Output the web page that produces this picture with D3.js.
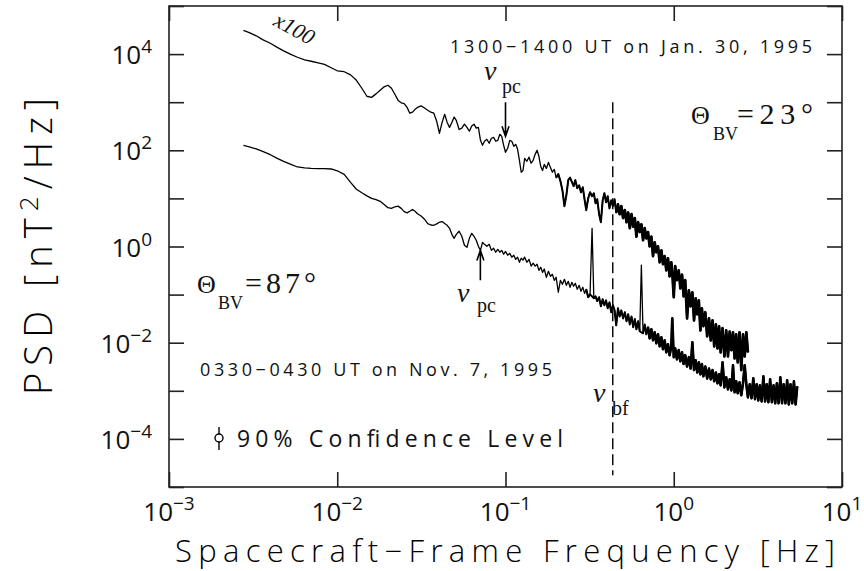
<!DOCTYPE html>
<html><head><meta charset="utf-8">
<script src="https://cdn.jsdelivr.net/npm/d3@7"></script>
<style>body{margin:0;background:#fff}svg{display:block}</style>
</head><body>
<svg id="chart" width="864" height="571"></svg>
<script>
// ---------------- DATA ----------------
// frequency grid [Hz]
const freq = [
0.00277,0.0030,0.0033,0.0036,0.0040,0.0044,0.0048,0.0053,0.0058,0.0064,
0.0070,0.0077,0.0084,0.0092,0.0100,0.0110,0.0120,0.0130,0.0140,0.0150,
0.0160,0.0170,0.0180,0.0190,0.0200,0.0210,0.0220,0.0230,0.0240,0.0250,
0.0260,0.0270,0.0280,0.0290,0.0300,0.0315,0.0330,0.0345,0.0360,0.0375,
0.0390,0.0405,0.0420,0.0435,0.0450,0.0465,0.0480,0.0495,0.0510,0.0530,
0.0550,0.0570,0.0590,0.0610,0.0630,0.0650,0.0670,0.0690,0.0710,0.0730,
0.0750,0.0775,0.0800,0.0825,0.0850,0.0875,0.0900,0.0925,0.0950,0.0975,
0.100,0.103,0.106,0.109,0.112,0.115,0.118,0.121,0.124,0.127,
0.130,0.134,0.138,0.142,0.146,0.150,0.154,0.158,0.162,0.166,
0.170,0.175,0.180,0.185,0.190,0.195,0.200,0.206,0.212,0.218,
0.224,0.230,0.236,0.242,0.248,0.254,0.260,0.267,0.274,0.281,
0.288,0.295,0.302,0.310,0.318,0.327,0.335,0.343,0.351,0.360,
0.369,0.378,0.387,0.396,0.405,0.415,0.425,0.435,0.445,0.455,
0.466,0.477,0.488,0.500,0.512,0.524,0.536,0.548,0.561,0.574,
0.587,0.600,0.614,0.628,0.642,0.657,0.672,0.687,0.703,0.719,
0.736,0.753,0.770,0.788,0.806,0.825,0.844,0.863,0.883,0.903,
0.924,0.945,0.967,0.980,1.000,1.02,1.045,1.07,1.095,1.12,
1.145,1.17,1.20,1.23,1.26,1.29,1.32,1.35,1.38,1.41,
1.44,1.47,1.50,1.54,1.58,1.62,1.66,1.70,1.74,1.78,
1.82,1.86,1.90,1.95,2.00,2.05,2.10,2.15,2.20,2.25,
2.30,2.35,2.40,2.46,2.52,2.58,2.64,2.70,2.76,2.83,
2.90,2.97,3.04,3.11,3.18,3.25,3.33,3.41,3.49,3.57,
3.65,3.74,3.83,3.92,4.01,4.10,4.20,4.30,4.40,4.50,
4.61,4.72,4.83,4.94,5.06,5.18,5.30,5.42];

// PSD [nT^2/Hz], 1300-1400 UT Jan. 30, 1995 (plotted x100)
const psdJan30 = [
310,280,240,200,168,138,117,99,86,76,
71,66,61,52,45,43,37,28.5,19.5,13.3,
12.6,14.9,17.7,20.9,22.5,19.5,14.6,10.9,9.7,9.3,
7.8,5.9,6.2,7.1,7.8,8.4,7.6,6.8,6.2,5.9,
4.0,2.26,3.8,5.6,3.8,3.0,3.8,4.9,4.2,2.7,
2.9,3.5,3.0,2.5,3.2,3.5,2.9,3.0,1.61,1.27,
1.54,1.69,1.40,1.78,1.86,1.54,1.61,2.15,1.95,1.27,
0.91,1.10,1.61,1.54,1.21,1.33,1.05,0.62,0.35,0.38,
0.68,0.59,0.72,0.54,0.62,0.83,1.0,0.75,0.46,0.38,
0.51,0.42,0.56,0.44,0.35,0.40,0.27,0.32,0.23,0.147,
0.069,0.116,0.24,0.27,0.22,0.18,0.24,0.162,0.187,0.134,
0.170,0.096,0.057,0.100,0.134,0.111,0.128,0.079,0.096,0.047,
0.032,0.091,0.128,0.083,0.111,0.062,0.091,0.069,0.096,0.051,
0.075,0.047,0.069,0.039,0.057,0.032,0.051,0.024,0.047,0.026,
0.039,0.016,0.032,0.020,0.029,0.0135,0.024,0.0148,0.020,0.0101,
0.016,0.0063,0.0122,0.0076,0.0101,0.0047,0.0083,0.0043,0.0063,0.0032,
0.0057,0.0024,0.0047,0.0029,0.00088,0.0039,0.0020,0.0032,0.00135,0.0026,
0.00092,0.0020,0.00032,0.00123,0.00057,0.00112,0.00029,0.00084,0.00039,0.00076,
0.00018,0.00052,0.00022,0.00043,0.000136,0.00032,0.000112,0.00029,0.000084,0.00024,
0.000076,0.00022,0.000063,0.00020,0.000052,0.00018,0.000052,0.00017,0.000070,0.000165,
0.000047,0.000150,0.000039,0.000165,0.000027,0.000150,0.000052,0.000165,0.000063,null,
null,null,null,null,null,null,null,null,null,null,
null,null,null,null,null,null,null,null,null,null,
null,null,null,null,null,null,null,null];

// PSD [nT^2/Hz], 0330-0430 UT Nov. 7, 1995
const psdNov7 = [
127,118,107,95,81,68,59,51,45,43,
42,41.6,41.6,40.9,37.5,31.7,21.6,15.5,13.1,11.3,
10.0,9.4,8.7,7.5,6.4,6.2,6.7,6.9,6.2,5.3,
5.0,5.4,5.9,5.4,4.8,4.3,3.7,3.0,2.8,2.76,
2.96,3.2,3.3,3.0,2.76,2.39,1.79,1.48,1.79,2.07,
1.63,1.06,0.96,1.48,1.88,1.63,1.35,1.01,0.83,1.22,
1.11,1.01,1.11,0.83,0.92,0.76,0.87,0.76,0.83,0.69,
0.79,0.66,0.72,0.60,0.66,0.54,0.60,0.47,0.57,0.52,
0.60,0.47,0.54,0.39,0.45,0.39,0.43,0.32,0.37,0.29,
0.34,0.229,0.305,0.24,0.264,0.198,0.229,0.112,0.198,0.164,
0.208,0.156,0.189,0.142,0.180,0.149,0.172,0.129,0.156,0.117,
0.142,0.106,0.129,0.088,0.101,2.39,0.084,0.092,0.073,0.088,
0.057,0.080,0.060,0.076,0.052,0.069,0.043,0.060,0.047,0.023,
0.052,0.035,0.047,0.032,0.043,0.028,0.039,0.024,0.035,0.021,
0.031,0.019,0.028,0.0173,0.41,0.0157,0.024,0.0150,0.021,0.0123,
0.019,0.0112,0.0165,0.0097,0.0150,0.0084,0.0130,0.0073,0.0112,0.0063,
0.0093,0.0055,0.0084,0.032,0.0050,0.0076,0.0045,0.0070,0.0041,0.0063,
0.0036,0.0055,0.0032,0.0050,0.0029,0.0102,0.0027,0.0043,0.0024,0.0039,
0.0022,0.0036,0.0020,0.0032,0.0018,0.0029,0.00173,0.0027,0.00158,0.0024,
0.00143,0.0022,0.00130,0.0039,0.00118,0.00191,0.00107,0.00173,0.00102,0.0034,
0.00093,0.00158,0.00089,0.00150,0.00081,0.00143,0.0034,0.00137,0.00073,0.00137,
0.00070,0.00182,0.00067,0.00137,0.00063,0.00130,0.00060,0.00200,0.00060,0.00137,
0.00058,0.00173,0.00058,0.00130,0.00055,0.00143,0.00055,0.00191,0.00055,0.00137,
0.00055,0.00165,0.00052,0.00137,0.00055,0.00158,0.00052,0.00124];

const jan30Multiplier = 100;

const xTickValues = [1e-3, 1e-2, 1e-1, 1e0, 1e1];
const xTickExponents = ["\u22123", "\u22122", "\u22121", "0", "1"];
const yTickValues = [1e-5, 1e-4, 1e-3, 1e-2, 1e-1, 1e0, 1e1, 1e2, 1e3, 1e4, 1e5];
const yLabelValues = [1e-4, 1e-2, 1e0, 1e2, 1e4];
const yLabelExponents = ["\u22124", "\u22122", "0", "2", "4"];

// characteristic frequencies [Hz]
const nuPcJan30 = 0.1;
const nuPcNov7 = 0.0709;
const nuBf = 0.434;

// ---------------- DRAWING ----------------
const svg = d3.select("#chart");
const M = {l: 169, r: 842, t: 6, b: 487};
const x = d3.scaleLog().domain([1e-3, 1e1]).range([M.l, M.r]);
const y = d3.scaleLog().domain([1e-5, 1e5]).range([M.b, M.t]);
const INK = "#000";
const SANS = "'Open Sans','Liberation Sans',sans-serif";
const SERIF = "'Liberation Serif','DejaVu Serif',serif";

svg.append("rect").attr("width", 864).attr("height", 571).attr("fill", "#fff");

// frame
svg.append("rect").attr("x", M.l).attr("y", M.t).attr("width", M.r - M.l).attr("height", M.b - M.t)
  .attr("fill", "none").attr("stroke", "#222").attr("stroke-width", 1.6);

function ticks(axis, tr) {
  svg.append("g").attr("transform", tr).call(axis).call(g => {
    g.select(".domain").remove();
    g.selectAll("text").remove();
    g.selectAll("line").attr("stroke", "#222").attr("stroke-width", 1.6);
  });
}
ticks(d3.axisBottom(x).tickValues(xTickValues).tickSize(-15), `translate(0,${M.b})`);
ticks(d3.axisTop(x).tickValues(xTickValues).tickSize(-15), `translate(0,${M.t})`);
ticks(d3.axisLeft(y).tickValues(yTickValues).tickSize(-15), `translate(${M.l},0)`);
ticks(d3.axisRight(y).tickValues(yTickValues).tickSize(-15), `translate(${M.r},0)`);

// tick labels
function powLabel(px, py, anchor, exp) {
  const t = svg.append("text").attr("x", px).attr("y", py).attr("text-anchor", anchor)
    .attr("font-family", SANS).attr("font-size", 26).attr("fill", "#111");
  t.append("tspan").text("10");
  t.append("tspan").attr("dy", -11).attr("font-size", 19).text(exp);
}
xTickValues.forEach((v, i) => powLabel(x(v), 521, "middle", xTickExponents[i]));
yLabelValues.forEach((v, i) => powLabel(152, y(v) + 10, "end", yLabelExponents[i]));

// dashed line at nu_bf
svg.append("line").attr("x1", x(nuBf)).attr("x2", x(nuBf))
  .attr("y1", y(1e3)).attr("y2", y(1.75e-5))
  .attr("stroke", INK).attr("stroke-width", 1.4).attr("stroke-dasharray", "11,5");

// spectra
const rows = freq.map((f, i) => ({
  f,
  jan: psdJan30[i] == null ? null : psdJan30[i] * jan30Multiplier,
  nov: psdNov7[i]
}));
const lineJan = d3.line().defined(d => d.jan != null).x(d => x(d.f)).y(d => y(d.jan));
const lineNov = d3.line().x(d => x(d.f)).y(d => y(d.nov));
function drawSeries(gen, data, width) {
  svg.append("path").attr("d", gen(data)).attr("fill", "none").attr("stroke", INK)
    .attr("stroke-width", width).attr("stroke-linejoin", "round");
}
drawSeries(lineJan, rows, 1.3);
drawSeries(lineNov, rows, 1.3);
// the dense high-frequency part of each spectrum appears as a solid band;
// isolated narrow spectral lines (far above both neighbours) stay thin
const notLine = key => (d, i, arr) => {
  const a = arr[i - 1], b = arr[i + 1];
  if (!a || !b || a[key] == null || b[key] == null) return true;
  return !(d[key] > 5 * a[key] && d[key] > 5 * b[key]);
};
const janDense = rows.filter(d => d.f >= 0.2 && d.jan != null);
const novDense = rows.filter(d => d.f >= 0.3);
drawSeries(lineJan, janDense.filter(notLine("jan")), 2.0);
drawSeries(lineNov, novDense.filter(notLine("nov")), 2.0);
drawSeries(lineJan, janDense.filter(d => d.f >= 0.45), 2.7);
drawSeries(lineNov, novDense.filter(notLine("nov")).filter(d => d.f >= 0.7), 2.6);

// arrows
function arrow(f, pFrom, pTo) {
  const X = x(f), y0 = y(pFrom), y1 = y(pTo), s = Math.sign(y1 - y0);
  svg.append("path")
    .attr("d", `M${X},${y0}L${X},${y1}M${X - 3.5},${y1 - s * 10}L${X},${y1}L${X + 3.5},${y1 - s * 10}`)
    .attr("fill", "none").attr("stroke", INK).attr("stroke-width", 1.6);
}
arrow(nuPcJan30, 1000, 195);
arrow(nuPcNov7, 0.198, 0.83);

// text helpers
function txt(px, py, s, opts = {}) {
  const t = svg.append("text").attr("x", px).attr("y", py).text(s)
    .attr("font-family", opts.family || SANS).attr("font-size", opts.size || 20)
    .attr("fill", opts.fill || "#111");
  if (opts.weight) t.attr("font-weight", opts.weight);
  if (opts.style) t.attr("font-style", opts.style);
  if (opts.anchor) t.attr("text-anchor", opts.anchor);
  if (opts.len) t.attr("textLength", opts.len).attr("lengthAdjust", "spacing");
  if (opts.transform) t.attr("transform", opts.transform);
  return t;
}

// nu labels
function nuLabel(px, py, sub, subX, subY) {
  txt(px, py, "\u03BD", {family: SERIF, style: "italic", size: 28});
  txt(subX, subY, sub, {family: SERIF, size: 20});
}
nuLabel(484, 80, "pc", 502, 93);
nuLabel(457, 302, "pc", 477, 312);
nuLabel(593, 402, "bf", 612, 415);

// Theta labels
function thetaLabel(px, py, subX, restX, rest, restLen) {
  txt(px, py, "\u0398", {family: SERIF, size: 26});
  txt(subX, py + 16, "BV", {family: SERIF, size: 18});
  txt(restX, py, rest, {family: SERIF, size: 30, len: restLen});
}
thetaLabel(691, 124, 713, 737, "=23\u00B0", 76);
thetaLabel(197, 293, 218, 245, "=87\u00B0", 71);

// date labels
txt(450, 53, "1300\u22121400 UT on Jan. 30, 1995", {size: 18, len: 362});
txt(200, 376, "0330\u22120430 UT on Nov. 7, 1995", {size: 18, len: 352});

// x100 label
txt(0, 0, "x100", {family: SERIF, style: "italic", size: 22, anchor: "middle",
  transform: "translate(291,35) rotate(29)"});

// confidence symbol
svg.append("line").attr("x1", 219).attr("x2", 219).attr("y1", 427).attr("y2", 450)
  .attr("stroke", INK).attr("stroke-width", 1.4);
svg.append("circle").attr("cx", 219).attr("cy", 438).attr("r", 4)
  .attr("fill", "#fff").attr("stroke", INK).attr("stroke-width", 1.4);
txt(237, 447, "90% Confidence Level", {size: 23, len: 326});

// axis titles
txt(175, 562, "Spacecraft\u2212Frame Frequency [Hz]", {size: 31, weight: 300, len: 660, fill: "#000"});
const yt = svg.append("text").attr("transform", "translate(52,246.5) rotate(-90)")
  .attr("text-anchor", "middle").attr("font-family", SANS).attr("font-weight", 300)
  .attr("font-size", 38).attr("fill", "#000").attr("textLength", 297).attr("lengthAdjust", "spacing");
yt.append("tspan").text("PSD [nT");
yt.append("tspan").attr("dy", -14).attr("font-size", 26).text("2");
yt.append("tspan").attr("dy", 14).text("/Hz]");
</script>
</body></html>
